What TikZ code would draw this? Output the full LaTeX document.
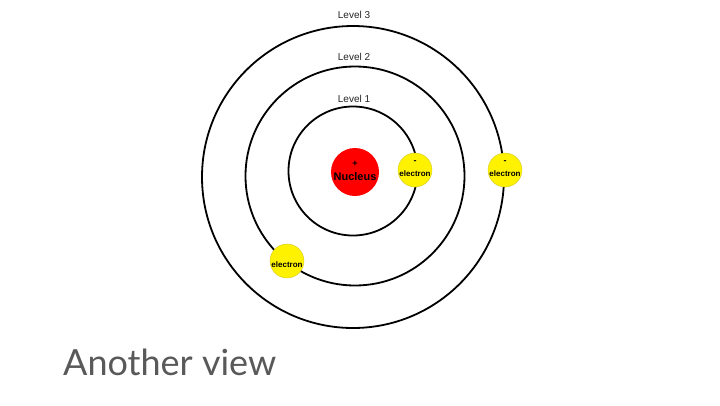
\documentclass[tikz,border=0pt]{standalone}
\usepackage{fontspec}
\setmainfont{Liberation Sans}
\newfontfamily\latofont{Lato}
\begin{document}
\begin{tikzpicture}[x=1pt,y=-1pt,
  orbit/.style={draw=black, line width=1.8pt, circle, inner sep=0pt},
  levellabel/.style={font=\fontsize{10}{12}\selectfont, text=black!85, inner sep=0pt},
  electronball/.style={circle, fill=yellow, draw=yellow!80!black, line width=0.4pt, minimum size=34pt, inner sep=0pt},
  etext/.style={font=\bfseries\fontsize{8}{9}\selectfont, inner sep=0pt},
  mtext/.style={font=\bfseries\fontsize{9}{10}\selectfont, inner sep=0pt}
]
\useasboundingbox (0,0) rectangle (720,405);
\fill[white] (0,0) rectangle (720,405);
% orbits
\node[orbit, minimum size=302pt] (l3) at (353,177) {};
\node[orbit, minimum size=219pt] (l2) at (355,176) {};
\node[orbit, minimum size=129pt] (l1) at (353,171) {};
% labels
\node[levellabel] (t3) at (354,15) {Level 3};
\node[levellabel] (t2) at (354,57) {Level 2};
\node[levellabel] (t1) at (354,99) {Level 1};
% nucleus
\node[circle, fill=red, minimum size=48pt, inner sep=0pt] (nuc) at (355,172) {};
\node[mtext] (nplus) at (355,164) {+};
\node[inner sep=0pt, font=\bfseries\fontsize{11}{12}\selectfont] (nname) at (355,177) {Nucleus};
% electrons
\node[electronball] (e1) at (415,170) {};
\node[mtext] (e1m) at (415,162) {-};
\node[etext] (e1t) at (415,174) {electron};
\node[electronball] (e3) at (505,170) {};
\node[mtext] (e3m) at (505,162) {-};
\node[etext] (e3t) at (505,174) {electron};
\node[electronball] (e2) at (287,261) {};
\node[etext] (e2t) at (287,265) {electron};
% title
\node[anchor=base west, inner sep=0pt, text=black!65, font=\latofont\fontsize{36}{40}\selectfont] (title) at (63,375) {Another view};
\end{tikzpicture}
\end{document}
